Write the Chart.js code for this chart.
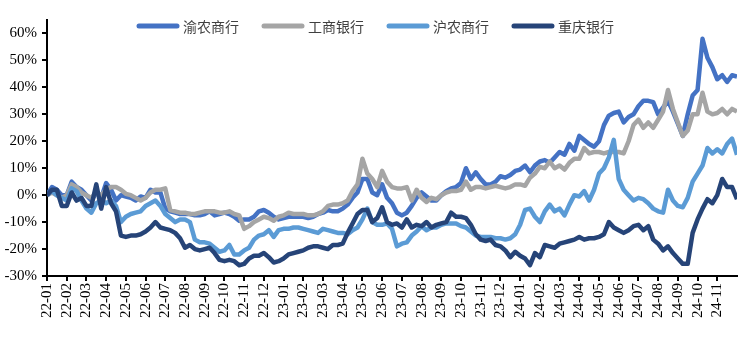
<!DOCTYPE html>
<html>
<head>
<meta charset="utf-8">
<script src="https://cdn.jsdelivr.net/npm/chart.js@4.4.0/dist/chart.umd.min.js"></script>
<style>
  html, body { margin: 0; padding: 0; background: #fff; }
  #wrap { width: 751px; height: 352px; position: relative; }
</style>
</head>
<body>
<div id="wrap"><canvas id="bankChart"></canvas></div>
<script>
// month tick labels (one tick per month start)
const monthLabels = [
  '22-01', '22-02', '22-03', '22-04', '22-05', '22-06', '22-07', '22-08', '22-09', '22-10', '22-11', '22-12',
  '23-01', '23-02', '23-03', '23-04', '23-05', '23-06', '23-07', '23-08', '23-09', '23-10', '23-11', '23-12',
  '24-01', '24-02', '24-03', '24-04', '24-05', '24-06', '24-07', '24-08', '24-09', '24-10', '24-11'
];
const yTickValues = [-30, -20, -10, 0, 10, 20, 30, 40, 50, 60];

// cumulative return (%), roughly weekly: 4 readings per month
const pointsPerMonth = 4;

const ynValues = [ // 渝农商行
  0, 3, 2, 0, 0, 5, 3, 2, 0, -2, 1, -1,
  4.5, 2, -2, 0, -0.5, -1, -2, -0.5, -1, 2, 1, 1,
  -5, -6, -6.5, -7, -7, -7, -7.5, -7.5, -7, -6, -7.5, -7,
  -6.5, -7, -8, -9.5, -9, -9, -8, -6, -5.5, -6.5, -8, -9,
  -8.5, -8, -8, -8, -8, -8.5, -8, -7, -6.5, -5.5, -6, -6,
  -5, -3.5, -1, 1, 6, 6, 1, 0, 4, -1, -3, -6.5,
  -7.5, -6.5, -4, -1, 1, -0.5, -2, -2, 0, 1.5, 2.5, 3,
  4.5, 10, 6, 8.5, 6, 4, 4, 5, 7, 6.5, 7.5, 9,
  9.5, 11, 8.5, 11, 12.5, 13, 12, 14, 16, 15, 19, 16.5,
  22, 20.5, 19, 18, 20, 26, 29.5, 30.5, 31, 27, 29, 30,
  33, 35, 35, 34.5, 30, 32.5, 35, 31, 26.5, 22, 30, 37,
  39, 58, 51, 47.5, 43, 44.5, 42, 44.5, 44
];

const icbcValues = [ // 工商银行
  0, 1, 0, -1, 0, 4, 3, 1, 0, -1, 1, 0,
  2, 3, 3, 2, 0.5, 0, -1, -2, -1, 1, 2, 2,
  2.5, -5.5, -6, -6.5, -6.5, -7, -7, -6.5, -6, -6, -6, -6.5,
  -6.5, -6, -7, -7.5, -12.5, -11.5, -10, -9, -8, -8.5, -9.5, -8,
  -7.5, -6.5, -7, -7, -7, -7.5, -7.5, -7, -6, -4, -3.5, -3.5,
  -3, -2, 1.5, 4, 13.5, 8, 6, 3, 9, 5, 3, 2.5,
  2.5, 3, -2, 2, -1, -2.5, -1, -1.5, 0, 1, 1.5, 1.5,
  2, 5, 2, 3, 3, 2.5, 3, 3.5, 3, 2.5, 3, 4,
  4, 3.5, 6.5, 8, 10.5, 10, 12.5, 10, 11, 9.5, 12, 13.5,
  13.5, 17.5, 15.5, 16, 16, 15.5, 16, 16, 16, 15.5, 20, 26,
  28, 25, 27, 25, 28, 31, 39, 32, 27, 22, 24, 30,
  30, 38, 31, 30, 30.5, 32, 30, 32, 31
];

const hnValues = [ // 沪农商行
  0, 1.5, 0, -1, -2, 2.5, 1.5, -2, -5, -6.5, -3, -2,
  -3, -2, -4, -10, -8, -7, -6.5, -6, -4, -3, -2, -4,
  -7, -8.5, -10, -9, -9, -10, -16.5, -17.5, -17.5, -18, -19.5, -21,
  -20.5, -18.5, -22, -22, -20.5, -19.5, -16.5, -15, -14.5, -13, -15.5, -13,
  -12.5, -12.5, -12, -12, -12.5, -13, -13.5, -14, -12.5, -13, -13.5, -14,
  -14, -14.5, -13, -12, -9, -5, -10, -11, -11, -10.5, -12.5, -19,
  -18, -17.5, -15, -13.5, -11.5, -13, -12, -12, -11, -10.5, -10.5, -10.5,
  -11.5, -12, -13.5, -15, -15.5, -15.5, -15.5, -16, -16, -16.5, -16, -14.5,
  -11, -5.5, -5, -8, -10, -6, -3.5, -6, -5, -7.5, -3.5, 0,
  -0.5, 1.5, -2, 2, 8, 10, 14, 20.5, 6, 2, 0, -2,
  -1, -1.5, -3, -5, -6, -6.5, 2, -2, -4, -4.5, -1, 5,
  8, 11, 17.5, 15.5, 17, 15.5, 19, 21, 15
];

const cqValues = [ // 重庆银行
  0, 2, 2, -4, -4, 1, -2, -1, -4, -4, 4, -5,
  3, -3, -6, -15, -15.5, -15, -15, -14.5, -13.5, -12, -10, -12,
  -12.5, -13, -14, -16, -19.5, -18.5, -20, -20.5, -20, -19.5, -21.5, -24,
  -24.5, -24, -24.5, -26, -25.5, -23.5, -22.5, -22.5, -21.5, -23, -25, -24.5,
  -23.5, -22, -21.5, -21, -20.5, -19.5, -19, -19, -19.5, -20, -18.5, -18.5,
  -18, -14, -10.5, -7, -5.5, -5.5, -10, -8.5, -4.5, -10, -11, -10.5,
  -12, -9, -12, -11, -11.5, -10, -12, -11, -10.5, -10, -6.5, -8,
  -8, -8.5, -11, -14.5, -16.5, -17, -16.5, -18.5, -19, -20.5, -23, -21,
  -22.5, -23.5, -26, -21.5, -23, -18.5, -19, -19.5, -18, -17.5, -17, -16.5,
  -15.5, -16.5, -16, -16, -15.5, -14.5, -10, -12, -13, -14, -13, -11.5,
  -11, -13, -11.5, -16.5, -18, -20.5, -19, -21.5, -23.5, -25.5, -25.5, -14,
  -9, -5, -1.5, -3, 0, 6, 3, 3, -1.5
];

const seriesNames = ['渝农商行', '工商银行', '沪农商行', '重庆银行'];
const seriesColors = ['#4472C4', '#A5A5A5', '#5B9BD5', '#264478'];
const seriesValues = [ynValues, icbcValues, hnValues, cqValues];

const toPoints = vals => vals.map((v, i) => ({ x: i / pointsPerMonth, y: v }));

// legend sits inside the plot area, like the original
const topLegend = {
  id: 'topLegend',
  afterDraw(chart) {
    const ctx = chart.ctx;
    const sets = chart.data.datasets;
    ctx.save();
    ctx.font = '14px "Noto Sans CJK SC"';
    const lineLen = 42, gap = 4, itemGap = 23;
    const widths = sets.map(d => lineLen + gap + ctx.measureText(d.label).width);
    const total = widths.reduce((a, b) => a + b, 0) + itemGap * (sets.length - 1);
    let x = chart.width / 2 - total / 2;
    const y = 26;
    sets.forEach((d, i) => {
      ctx.strokeStyle = d.borderColor;
      ctx.lineWidth = 5;
      ctx.lineCap = 'round';
      ctx.beginPath();
      ctx.moveTo(x + 2, y);
      ctx.lineTo(x + lineLen - 2, y);
      ctx.stroke();
      ctx.fillStyle = '#404040';
      ctx.textBaseline = 'middle';
      ctx.fillText(d.label, x + lineLen + gap, y + 1);
      x += widths[i] + itemGap;
    });
    ctx.restore();
  }
};

const axisFont = { family: '"Liberation Serif", "Times New Roman", serif', size: 15 };

new Chart(document.getElementById('bankChart'), {
  type: 'line',
  data: {
    datasets: seriesNames.map((name, k) => ({
      label: name,
      data: toPoints(seriesValues[k]),
      borderColor: seriesColors[k],
      backgroundColor: seriesColors[k],
      borderWidth: 4.5,
      pointRadius: 0,
      tension: 0,
      fill: false,
      borderJoinStyle: 'round',
      order: seriesNames.length - k
    }))
  },
  options: {
    responsive: true,
    maintainAspectRatio: false,
    animation: false,
    layout: { padding: { top: 20, right: 14, left: 0, bottom: 0 } },
    scales: {
      x: {
        type: 'linear',
        min: 0,
        max: 35,
        afterFit: s => { s.height = 76; },
        ticks: {
          stepSize: 1,
          autoSkip: false,
          maxRotation: 90,
          minRotation: 90,
          padding: 2,
          color: '#000',
          font: axisFont,
          callback: v => monthLabels[v] ?? null
        },
        grid: { drawOnChartArea: false, tickLength: 5, color: '#000', lineWidth: 2 },
        border: { color: '#000', width: 2 }
      },
      y: {
        min: -30,
        max: 65,
        afterFit: s => { s.width = 47; },
        afterBuildTicks: s => { s.ticks = yTickValues.map(v => ({ value: v })); },
        ticks: {
          padding: 5,
          color: '#000',
          font: axisFont,
          callback: v => v + '%'
        },
        grid: { drawOnChartArea: false, tickLength: 5, color: '#000', lineWidth: 2 },
        border: { color: '#000', width: 2 }
      }
    },
    plugins: {
      legend: { display: false },
      tooltip: { enabled: false }
    }
  },
  plugins: [topLegend]
});
</script>
</body>
</html>
